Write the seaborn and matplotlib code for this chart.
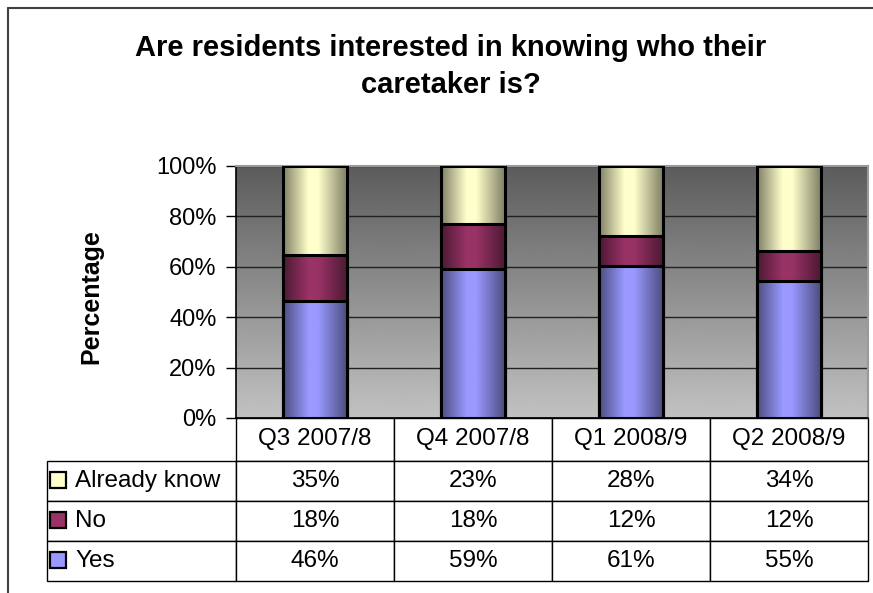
import matplotlib
matplotlib.use("Agg")
import matplotlib.pyplot as plt
import numpy as np
import seaborn as sns
import pandas as pd
from matplotlib.lines import Line2D
from matplotlib.patches import Rectangle

# Data
quarters = ["Q3 2007/8", "Q4 2007/8", "Q1 2008/9", "Q2 2008/9"]
yes = [46, 59, 61, 55]
no = [18, 18, 12, 12]
already_know = [35, 23, 28, 34]
series_order = ["Already know", "No", "Yes"]   # order of table rows
y_ticks = [0, 20, 40, 60, 80, 100]

light_colors = {"Yes": "#9999ff", "No": "#993366", "Already know": "#ffffcc"}

sns.set_theme(style="white")
plt.rcParams["font.family"] = ["Liberation Sans", "DejaVu Sans"]
plt.rcParams["text.color"] = "black"
plt.rcParams["axes.labelcolor"] = "black"
plt.rcParams["ytick.color"] = "black"
plt.rcParams["xtick.color"] = "black"

df = pd.DataFrame({"quarter": quarters, "Yes": yes, "No": no, "Already know": already_know})
total = df[["Yes", "No", "Already know"]].sum(axis=1)
# 100% stacked: normalise each quarter, then cumulate bottom-up
df["top_yes"] = df["Yes"] / total * 100
df["top_no"] = (df["Yes"] + df["No"]) / total * 100
df["top_ak"] = (df["Yes"] + df["No"] + df["Already know"]) / total * 100

W, H = 873, 593
AX_W, AX_H = 632, 252
fig = plt.figure(figsize=(W / 100, H / 100), dpi=100)
fig.patch.set_facecolor("white")
ax = fig.add_axes([236 / W, 1 - 418 / H, AX_W / W, AX_H / H])


def bar_gradient(hex_color, n=200):
    light = np.array(matplotlib.colors.to_rgb(hex_color))
    dark = light * 0.5
    t = np.linspace(0, 1, n)
    p = np.interp(t, [0, 0.4, 0.55, 1], [0, 1, 1, 0])
    return (dark[None, :] + (light - dark)[None, :] * p[:, None])[None, :, :]


# plot area background: dark grey on top fading to light grey
bg = np.linspace(0.36, 0.76, 256)[:, None]
ax.imshow(np.repeat(bg, 2, axis=1), cmap="gray", vmin=0, vmax=1, extent=(0, 1, 0, 1),
          transform=ax.transAxes, aspect="auto", zorder=0)

layers = [("Already know", "top_ak"), ("No", "top_no"), ("Yes", "top_yes")]
for i, (name, col) in enumerate(layers):
    n_before = len(ax.patches)
    sns.barplot(data=df, x="quarter", y=col, color=light_colors[name], width=0.4,
                errorbar=None, ax=ax)
    grad = bar_gradient(light_colors[name])
    for patch in ax.patches[n_before:]:
        x0, y0 = patch.get_x(), patch.get_y()
        w, h = patch.get_width(), patch.get_height()
        patch.set_facecolor("none")
        patch.set_edgecolor("black")
        patch.set_linewidth(2.2)
        patch.set_zorder(3 + 2 * i)
        ax.imshow(grad, extent=(x0, x0 + w, y0, y0 + h), aspect="auto",
                  interpolation="bilinear", zorder=2 + 2 * i)

ax.set_xlim(-0.5, 3.5)
ax.set_ylim(0, 100)
ax.set_yticks(y_ticks)
ax.set_yticklabels([f"{v}%" for v in y_ticks])
ax.tick_params(axis="y", direction="out", length=7, width=1, color="black",
               labelsize=17, pad=7, left=True)
ax.tick_params(axis="x", length=0, labelbottom=False)
ax.set_xlabel("")
ax.set_ylabel("Percentage", fontsize=18, fontweight="bold")
ax.yaxis.set_label_coords((103 - 236) / AX_W, 0.48)
ax.set_axisbelow(True)
ax.yaxis.grid(True, color="#222222", linewidth=1)
ax.xaxis.grid(False)
for side in ["left", "bottom"]:
    ax.spines[side].set_color("black")
    ax.spines[side].set_linewidth(1.2)
for side in ["top", "right"]:
    ax.spines[side].set_color("#9a9a9a")
    ax.spines[side].set_linewidth(1.5)

# data table under the plot; sizes in axes units so the bbox needs no rescaling
series_values = {"Yes": yes, "No": no, "Already know": already_know}
cell_text = [[f"{v}%" for v in series_values[s]] for s in series_order]
header_h, row_h = 43 / AX_H, 40 / AX_H
label_w, col_w = 192 / AX_W, 1 / len(quarters)
tbl_h = header_h + row_h * len(series_order)
tbl = ax.table(cellText=cell_text, rowLabels=series_order, colLabels=quarters,
               cellLoc="center", rowLoc="left",
               bbox=[0, -tbl_h, 1, tbl_h])
tbl.auto_set_font_size(False)
tbl.set_fontsize(17.5)
for (r, c), cell in tbl.get_celld().items():
    cell.set_height(header_h if r == 0 else row_h)
    cell.set_width(label_w if c == -1 else col_w)
    cell.set_edgecolor("black")
    cell.set_linewidth(1)
    cell.set_facecolor("white")
    if c == -1:
        cell.PAD = 0.15

# legend keys inside the row-label cells
for k, s in enumerate(series_order):
    yc = -(header_h + row_h * k + row_h / 2) + 1 / AX_H
    ax.add_patch(Rectangle(((50 - 236) / AX_W, yc - 8 / AX_H), 16 / AX_W, 16 / AX_H,
                           transform=ax.transAxes, facecolor=light_colors[s],
                           edgecolor="black", linewidth=1.6, clip_on=False, zorder=10))

title_lines = ["Are residents interested in knowing who their", "caretaker is?"]
for line, base in zip(title_lines, [56, 93]):
    fig.text(451 / W, 1 - base / H, line, ha="center", va="baseline",
             fontsize=21, fontweight="bold")

# chart area border (top and left edges visible)
fig.add_artist(Line2D([8 / W, 8 / W], [0, 1 - 8 / H], transform=fig.transFigure,
                      color="#404040", linewidth=1.5))
fig.add_artist(Line2D([8 / W, 1], [1 - 8 / H, 1 - 8 / H], transform=fig.transFigure,
                      color="#404040", linewidth=1.5))

fig.savefig("out.png", dpi=100)
